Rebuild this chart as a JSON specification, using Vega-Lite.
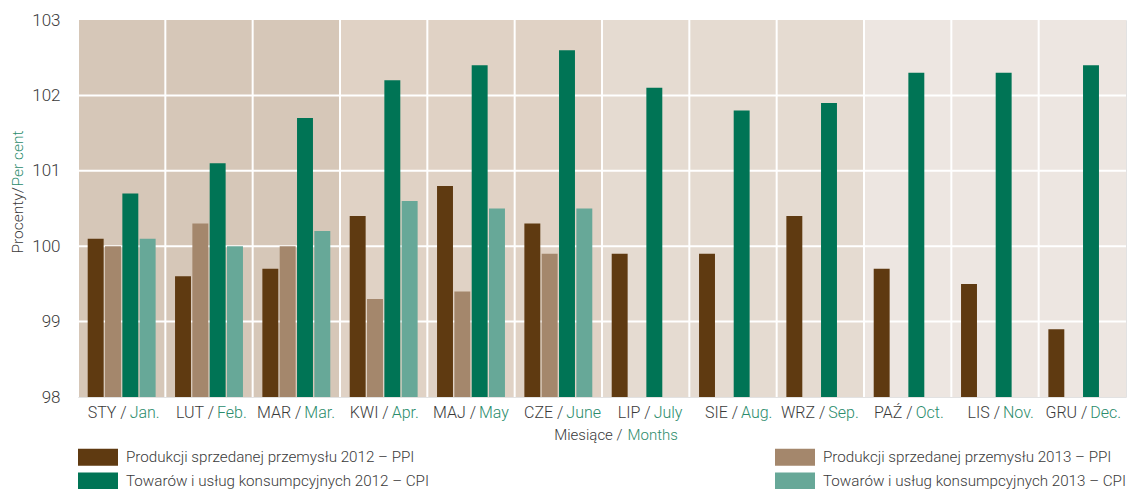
{
  "$schema": "https://vega.github.io/schema/vega-lite/v6.json",
  "width": 1048,
  "height": 377,
  "autosize": {"type": "none"},
  "padding": {"left": 78, "top": 20, "right": 2, "bottom": 92},
  "background": "white",
  "config": {
    "font": "Roboto",
    "view": {"stroke": "#e2e2e2", "strokeWidth": 1},
    "axis": {"labelFont": "Roboto", "titleFont": "Roboto", "titleFontWeight": 300, "labelFontWeight": 300},
    "legend": {"labelFont": "Roboto", "labelFontWeight": 300}
  },
  "datasets": {
    "months": [
      {"m": "STY / Jan.", "q": "Q1"},
      {"m": "LUT / Feb.", "q": "Q1"},
      {"m": "MAR / Mar.", "q": "Q1"},
      {"m": "KWI / Apr.", "q": "Q2"},
      {"m": "MAJ / May", "q": "Q2"},
      {"m": "CZE / June", "q": "Q2"},
      {"m": "LIP / July", "q": "Q3"},
      {"m": "SIE / Aug.", "q": "Q3"},
      {"m": "WRZ / Sep.", "q": "Q3"},
      {"m": "PAŹ / Oct.", "q": "Q4"},
      {"m": "LIS / Nov.", "q": "Q4"},
      {"m": "GRU / Dec.", "q": "Q4"}
    ],
    "levels": [{"g": 99}, {"g": 100}, {"g": 101}, {"g": 102}],
    "bars": [
      {"m": "STY / Jan.", "s": "Produkcji sprzedanej przemysłu 2012 – PPI", "v": 100.1},
      {"m": "STY / Jan.", "s": "Produkcji sprzedanej przemysłu 2013 – PPI", "v": 100.0},
      {"m": "STY / Jan.", "s": "Towarów i usług konsumpcyjnych 2012 – CPI", "v": 100.7},
      {"m": "STY / Jan.", "s": "Towarów i usług konsumpcyjnych 2013 – CPI", "v": 100.1},
      {"m": "LUT / Feb.", "s": "Produkcji sprzedanej przemysłu 2012 – PPI", "v": 99.6},
      {"m": "LUT / Feb.", "s": "Produkcji sprzedanej przemysłu 2013 – PPI", "v": 100.3},
      {"m": "LUT / Feb.", "s": "Towarów i usług konsumpcyjnych 2012 – CPI", "v": 101.1},
      {"m": "LUT / Feb.", "s": "Towarów i usług konsumpcyjnych 2013 – CPI", "v": 100.0},
      {"m": "MAR / Mar.", "s": "Produkcji sprzedanej przemysłu 2012 – PPI", "v": 99.7},
      {"m": "MAR / Mar.", "s": "Produkcji sprzedanej przemysłu 2013 – PPI", "v": 100.0},
      {"m": "MAR / Mar.", "s": "Towarów i usług konsumpcyjnych 2012 – CPI", "v": 101.7},
      {"m": "MAR / Mar.", "s": "Towarów i usług konsumpcyjnych 2013 – CPI", "v": 100.2},
      {"m": "KWI / Apr.", "s": "Produkcji sprzedanej przemysłu 2012 – PPI", "v": 100.4},
      {"m": "KWI / Apr.", "s": "Produkcji sprzedanej przemysłu 2013 – PPI", "v": 99.3},
      {"m": "KWI / Apr.", "s": "Towarów i usług konsumpcyjnych 2012 – CPI", "v": 102.2},
      {"m": "KWI / Apr.", "s": "Towarów i usług konsumpcyjnych 2013 – CPI", "v": 100.6},
      {"m": "MAJ / May", "s": "Produkcji sprzedanej przemysłu 2012 – PPI", "v": 100.8},
      {"m": "MAJ / May", "s": "Produkcji sprzedanej przemysłu 2013 – PPI", "v": 99.4},
      {"m": "MAJ / May", "s": "Towarów i usług konsumpcyjnych 2012 – CPI", "v": 102.4},
      {"m": "MAJ / May", "s": "Towarów i usług konsumpcyjnych 2013 – CPI", "v": 100.5},
      {"m": "CZE / June", "s": "Produkcji sprzedanej przemysłu 2012 – PPI", "v": 100.3},
      {"m": "CZE / June", "s": "Produkcji sprzedanej przemysłu 2013 – PPI", "v": 99.9},
      {"m": "CZE / June", "s": "Towarów i usług konsumpcyjnych 2012 – CPI", "v": 102.6},
      {"m": "CZE / June", "s": "Towarów i usług konsumpcyjnych 2013 – CPI", "v": 100.5},
      {"m": "LIP / July", "s": "Produkcji sprzedanej przemysłu 2012 – PPI", "v": 99.9},
      {"m": "LIP / July", "s": "Towarów i usług konsumpcyjnych 2012 – CPI", "v": 102.1},
      {"m": "SIE / Aug.", "s": "Produkcji sprzedanej przemysłu 2012 – PPI", "v": 99.9},
      {"m": "SIE / Aug.", "s": "Towarów i usług konsumpcyjnych 2012 – CPI", "v": 101.8},
      {"m": "WRZ / Sep.", "s": "Produkcji sprzedanej przemysłu 2012 – PPI", "v": 100.4},
      {"m": "WRZ / Sep.", "s": "Towarów i usług konsumpcyjnych 2012 – CPI", "v": 101.9},
      {"m": "PAŹ / Oct.", "s": "Produkcji sprzedanej przemysłu 2012 – PPI", "v": 99.7},
      {"m": "PAŹ / Oct.", "s": "Towarów i usług konsumpcyjnych 2012 – CPI", "v": 102.3},
      {"m": "LIS / Nov.", "s": "Produkcji sprzedanej przemysłu 2012 – PPI", "v": 99.5},
      {"m": "LIS / Nov.", "s": "Towarów i usług konsumpcyjnych 2012 – CPI", "v": 102.3},
      {"m": "GRU / Dec.", "s": "Produkcji sprzedanej przemysłu 2012 – PPI", "v": 98.9},
      {"m": "GRU / Dec.", "s": "Towarów i usług konsumpcyjnych 2012 – CPI", "v": 102.4}
    ]
  },
  "resolve": {"axis": {"x": "independent", "y": "independent"}},
  "layer": [
    {
      "data": {"name": "months"},
      "mark": {"type": "rect"},
      "encoding": {
        "x": {
          "field": "m", "type": "nominal", "sort": null,
          "scale": {
            "domain": ["STY / Jan.", "LUT / Feb.", "MAR / Mar.", "KWI / Apr.", "MAJ / May", "CZE / June", "LIP / July", "SIE / Aug.", "WRZ / Sep.", "PAŹ / Oct.", "LIS / Nov.", "GRU / Dec."],
            "paddingInner": 0, "paddingOuter": 0
          },
          "axis": {
            "orient": "bottom",
            "labelExpr": "split(datum.value, ' / ')[1]",
            "labelAlign": "left", "labelOffset": 8, "labelAngle": 0,
            "labelColor": "#2b8c6c", "labelFontSize": 16, "labelPadding": 7,
            "labelOverlap": false, "labelFlush": false,
            "ticks": false, "tickSize": 0, "domain": false, "grid": false,
            "title": "Months", "titleColor": "#2b8c6c", "titleFontSize": 15,
            "titleAlign": "left", "titleBaseline": "middle", "titleX": 549, "titleY": 37
          }
        },
        "y": {
          "datum": 98, "type": "quantitative",
          "scale": {"domain": [98, 103], "zero": false, "nice": false},
          "axis": {
            "orient": "left", "labels": false, "ticks": false, "domain": false, "grid": false,
            "title": "Per cent", "titleColor": "#2b8c6c", "titleFontSize": 15.5,
            "titleAngle": 270, "titleAlign": "left", "titleBaseline": "middle",
            "titleX": -61, "titleY": 166
          }
        },
        "y2": {"datum": 103},
        "fill": {
          "field": "q", "type": "nominal",
          "scale": {"domain": ["Q1", "Q2", "Q3", "Q4"], "range": ["#d6c7b8", "#e0d2c5", "#e5dbd1", "#ede6e1"]},
          "legend": null
        }
      }
    },
    {
      "data": {"name": "levels"},
      "mark": {"type": "rule", "color": "white", "strokeWidth": 2},
      "encoding": {
        "y": {"field": "g", "type": "quantitative", "axis": null}
      }
    },
    {
      "data": {"name": "months"},
      "mark": {"type": "rule", "color": "white", "strokeWidth": 2},
      "encoding": {
        "x": {"field": "m", "type": "nominal", "bandPosition": 0, "axis": null}
      }
    },
    {
      "data": {"name": "bars"},
      "mark": {"type": "bar"},
      "encoding": {
        "x": {
          "field": "m", "type": "nominal",
          "axis": {
            "orient": "bottom",
            "labelExpr": "split(datum.value, ' / ')[0] + ' /'",
            "labelAlign": "right", "labelOffset": 5, "labelAngle": 0,
            "labelColor": "#3a3a3a", "labelFontSize": 16, "labelPadding": 7,
            "labelOverlap": false, "labelFlush": false,
            "ticks": false, "tickSize": 0, "domain": false, "grid": false,
            "title": "Miesiące /", "titleColor": "#3a3a3a", "titleFontSize": 15,
            "titleAlign": "right", "titleBaseline": "middle", "titleX": 544, "titleY": 37
          }
        },
        "xOffset": {
          "field": "s", "type": "nominal",
          "scale": {
            "domain": ["Produkcji sprzedanej przemysłu 2012 – PPI", "Produkcji sprzedanej przemysłu 2013 – PPI", "Towarów i usług konsumpcyjnych 2012 – CPI", "Towarów i usług konsumpcyjnych 2013 – CPI"],
            "paddingInner": 0.08, "paddingOuter": 0.56
          }
        },
        "y": {
          "field": "v", "type": "quantitative",
          "axis": {
            "orient": "left", "values": [98, 99, 100, 101, 102, 103],
            "ticks": false, "domain": false, "grid": false,
            "labelFontSize": 17, "labelPadding": 18, "labelColor": "#3a3a3a",
            "title": "Procenty/", "titleColor": "#3a3a3a", "titleFontSize": 15.5,
            "titleAngle": 270, "titleAlign": "left", "titleBaseline": "middle",
            "titleX": -61, "titleY": 233
          }
        },
        "y2": {"datum": 98},
        "color": {
          "field": "s", "type": "nominal",
          "scale": {
            "domain": ["Produkcji sprzedanej przemysłu 2012 – PPI", "Produkcji sprzedanej przemysłu 2013 – PPI", "Towarów i usług konsumpcyjnych 2012 – CPI", "Towarów i usług konsumpcyjnych 2013 – CPI"],
            "range": ["#5f3a11", "#a4876c", "#007455", "#67a898"]
          },
          "legend": {
            "orient": "none", "legendX": 10, "legendY": 427,
            "direction": "horizontal", "columns": 2, "columnPadding": 345, "rowPadding": 5,
            "title": null,
            "symbolType": "M-2,-0.85H2V0.85H-2Z", "symbolSize": 400, "symbolStrokeWidth": 0, "symbolOpacity": 1,
            "labelFontSize": 15.2, "labelColor": "#3a3a3a", "labelOffset": 18, "labelLimit": 600
          }
        }
      }
    }
  ]
}
